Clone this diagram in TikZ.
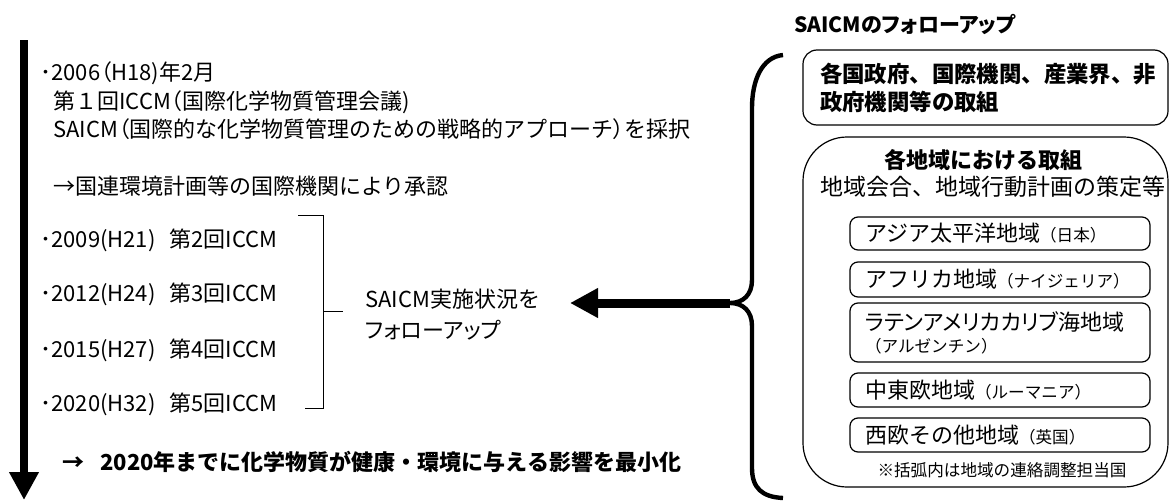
\documentclass[tikz,border=0pt]{standalone}
\usepackage{fontspec}
\setmainfont{Noto Sans CJK JP}
\newfontfamily\propfont{Noto Sans CJK JP}[RawFeature=+palt]
\newcommand{\ctry}[1]{{\fontsize{8.3}{10}\selectfont #1}}
\newcommand{\jlp}{{\propfont （}}
\newcommand{\jrp}{{\propfont ）}}
\usetikzlibrary{arrows.meta}

\begin{document}
\begin{tikzpicture}[x=0.5pt,y=-0.5pt,
  txt/.style={anchor=west,inner sep=0pt,font=\fontsize{11}{13}\selectfont},
  goal/.style={anchor=west,inner sep=0pt,font=\fontsize{11}{13}\selectfont\bfseries},
  bigarrow/.style={line width=4.5pt,-{Triangle[length=14pt,width=14pt]}},
  brace/.style={line width=2.2pt},
  outerbox/.style={draw,line width=0.6pt,minimum width=182.5pt},
  region/.style={draw,line width=0.6pt,rounded corners=4pt,minimum width=150pt,
    text width=135pt,inner xsep=7.5pt,inner ysep=0pt,align=left,
    font=\fontsize{11}{11}\selectfont}]
\useasboundingbox (0,0) rectangle (1169,503);

% Time line
\coordinate (tltop) at (24,40);
\coordinate (tlend) at (24,500);
\draw[bigarrow,line width=4pt] (tltop) -- (tlend);

% Conferences
\node[txt] (t06) at (40,73) {･2006\jlp H18)年2月};
\node[txt] (t06b) at (53,102) {第１回ICCM\jlp 国際化学物質管理会議)};
\node[txt] (t06c) at (53,129) {SAICM\jlp 国際的な化学物質管理のための戦略的アプローチ\jrp を採択};
\node[txt] (t06d) at (53,186) {→国連環境計画等の国際機関により承認};
\node[txt] (t09) at (40,240) {･2009(H21)\hspace{7pt}第2回ICCM};
\node[txt] (t12) at (40,294) {･2012(H24)\hspace{7pt}第3回ICCM};
\node[txt] (t15) at (40,350) {･2015(H27)\hspace{7pt}第4回ICCM};
\node[txt] (t20) at (40,404) {･2020(H32)\hspace{7pt}第5回ICCM};
\node[goal] (aim) at (62,462) {→\hspace{8pt}2020年までに化学物質が健康・環境に与える影響を最小化};

% Bracket
\coordinate (brtop) at (298,215);
\coordinate (brbot) at (305,408);
\draw[line width=0.5pt] (brtop) -| (323,408) -- (brbot);
\draw[line width=0.5pt] (323,311) -- (343,311);
\node[txt,align=left,font=\fontsize{11}{15.5}\selectfont] (fup) at (365,315) {SAICM実施状況を\\{\propfont フォローアップ}};

% Brace and arrow
\coordinate (cusp) at (730,303);
\coordinate (tip) at (570,303);
\draw[brace] (783,55) .. controls (762,57) and (752,80) .. (752,108) -- (752,280)
  .. controls (752,295) and (743,303) .. (cusp)
  .. controls (743,303) and (752,311) .. (752,326) -- (752,468)
  .. controls (752,488) and (762,497) .. (783,498);
\draw[bigarrow] (cusp) -- (tip);

% Follow-up side
\node[inner sep=0pt,font=\fontsize{10.5}{12}\selectfont\bfseries\propfont] (title) at (905,24) {SAICMのフォローアップ};
\node[outerbox,rounded corners=7pt,minimum height=37.5pt,text width=165.5pt,inner xsep=8.5pt,
  align=left,font=\fontsize{11.2}{14}\selectfont\bfseries] (gov) at (985.5,87.5)
  {各国政府、国際機関、産業界、非\\政府機関等の取組};
\node[outerbox,rounded corners=22pt,minimum height=175pt] (regbox) at (985.5,312) {};
\node[inner sep=0pt,font=\fontsize{11}{13}\selectfont\bfseries] (reghead) at (983,160) {各地域における取組};
\node[inner sep=0pt,font=\fontsize{11.5}{13}\selectfont] (regsub) at (993,187) {地域会合、地域行動計画の策定等};

\node[region,minimum height=16.5pt] (asia) at (1000,233.5) {アジア太平洋地域\ctry{（日本）}};
\node[region,minimum height=17.5pt] (afr) at (1000,279.5) {アフリカ地域\ctry{（ナイジェリア）}};
\node[region,minimum height=29.5pt] (lat) at (1000,332.5) {{\propfont ラテンアメリカカリブ海地域}\\\ctry{（アルゼンチン）}};
\node[region,minimum height=17pt] (ceu) at (1000,390) {中東欧地域\ctry{（ルーマニア）}};
\node[region,minimum height=17pt] (weu) at (1000,435) {西欧その他地域\ctry{（英国）}};
\node[inner sep=0pt,font=\fontsize{8.3}{10}\selectfont] (note) at (1002,470) {※括弧内は地域の連絡調整担当国};
\end{tikzpicture}
\end{document}
